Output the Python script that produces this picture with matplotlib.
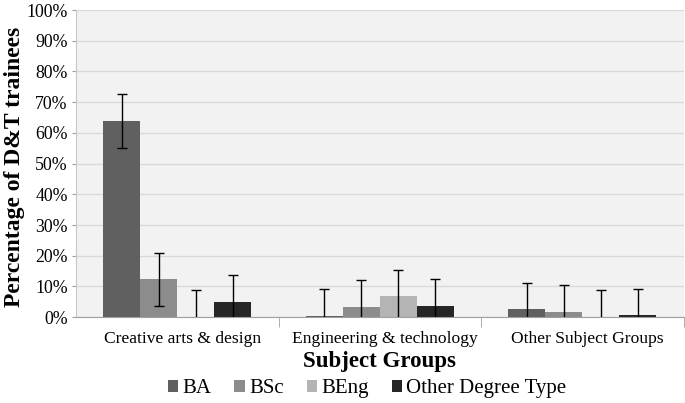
import numpy as np
import matplotlib.pyplot as plt
import matplotlib.transforms as mtransforms

plt.rcParams["font.family"] = ["Liberation Serif", "DejaVu Serif"]

groups = ["Creative arts & design", "Engineering & technology", "Other Subject Groups"]
series = ["BA", "BSc", "BEng", "Other Degree Type"]
values = {
    "BA": [64.0, 0.5, 2.5],
    "BSc": [12.3, 3.3, 1.8],
    "BEng": [0.0, 7.0, 0.0],
    "Other Degree Type": [5.0, 3.7, 0.7],
}
errors = {
    "BA": [8.8, 8.7, 8.6],
    "BSc": [8.7, 8.7, 8.7],
    "BEng": [8.9, 8.5, 8.9],
    "Other Degree Type": [8.7, 8.6, 8.6],
}
colors = ["#606060", "#8c8c8c", "#b4b4b4", "#262626"]

fig = plt.figure(figsize=(6.85, 4.03), dpi=100)
ax = fig.add_axes([0.111, 0.213, 0.887, 0.762])
ax.set_facecolor("#f2f2f2")

x = np.arange(len(groups))
w = 0.183
for i, s in enumerate(series):
    pos = x + (i - 1.5) * w
    ax.bar(pos, values[s], w, color=colors[i], label=s, zorder=2)
    ax.errorbar(pos, values[s], yerr=errors[s], fmt="none", ecolor="black",
                elinewidth=1, capsize=3.5, capthick=1, zorder=3)

ax.set_xlim(-0.5, len(groups) - 0.5)
ax.set_ylim(0, 100)
ax.set_yticks(np.arange(0, 101, 10))
ax.set_yticklabels([f"{v}%" for v in range(0, 101, 10)], fontsize=12.8)
ax.yaxis.grid(True, color="#d9d9d9", linewidth=1, zorder=0)
ax.tick_params(axis="y", length=3, color="#a0a0a0", pad=3)

ax.set_xticks(x)
ax.set_xticklabels(groups, fontsize=12.6)
ax.set_xticks(np.arange(0.5, len(groups) - 0.4, 1), minor=True)
ax.tick_params(axis="x", which="major", length=0, pad=10)
ax.tick_params(axis="x", which="minor", length=7, color="#a0a0a0", direction="out")
shift = mtransforms.ScaledTranslation(5 / 100, 0, fig.dpi_scale_trans)
for lbl in ax.get_xticklabels():
    lbl.set_transform(lbl.get_transform() + shift)

for sp in ["top", "right"]:
    ax.spines[sp].set_visible(False)
ax.spines["bottom"].set_color("#a0a0a0")
ax.spines["left"].set_color("#c8c8c8")

ax.set_ylabel("Percentage of D&T trainees", fontsize=17, fontweight="bold")
ax.yaxis.set_label_coords(-0.084, 0.49)
ax.set_xlabel("Subject Groups", fontsize=16.5, fontweight="bold", labelpad=3)

fig.legend(loc="lower center", bbox_to_anchor=(0.536, -0.035), ncol=4, frameon=False,
           fontsize=15, handlelength=0.5, handleheight=0.5, handletextpad=0.2,
           columnspacing=1.1)

fig.savefig("out.png", dpi=100, facecolor="white")
